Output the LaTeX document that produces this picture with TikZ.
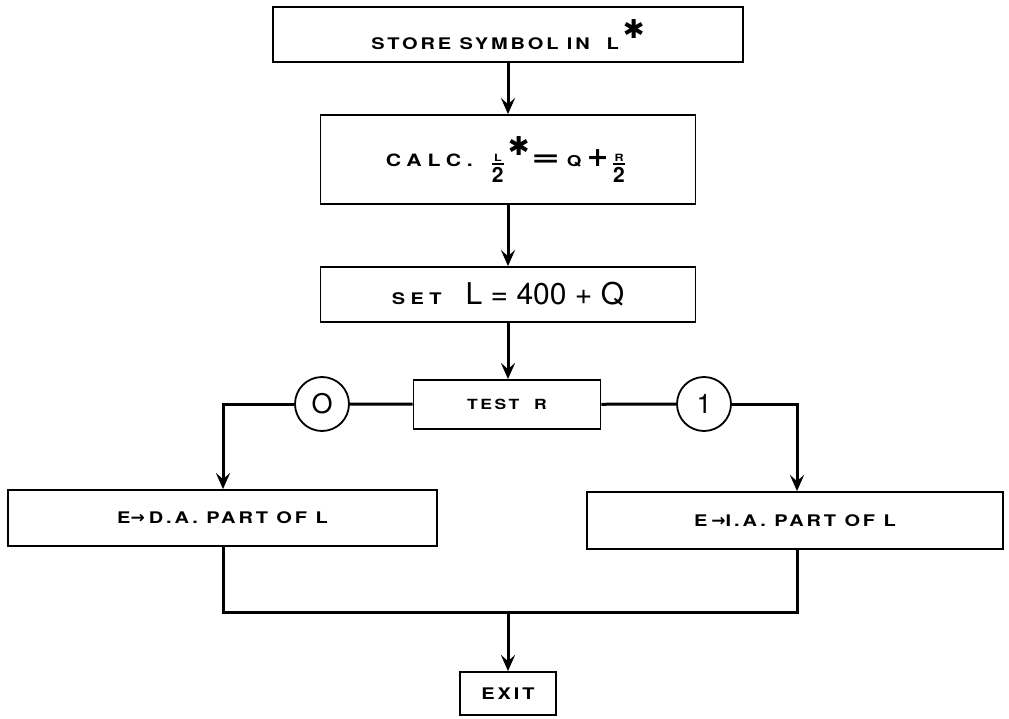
\documentclass[tikz,border=0pt]{standalone}
\usepackage{fontspec}
\usepackage{graphicx}
\setmainfont{TeX Gyre Heros}
\newfontfamily\lab[LetterSpace=18,FakeStretch=1.25]{TeX Gyre Heros}
\newfontfamily\labw[LetterSpace=34,FakeStretch=1.25]{TeX Gyre Heros}
\newfontfamily\sym{DejaVu Sans}
\usetikzlibrary{arrows.meta}
\newcommand{\lbl}[2]{{\lab\bfseries\fontsize{#1}{#1}\selectfont #2}}
\newcommand{\lblw}[2]{{\labw\bfseries\fontsize{#1}{#1}\selectfont #2}}
\newcommand{\astr}[1]{{\sym\bfseries\fontsize{#1}{#1}\selectfont ✱}}
\tikzset{
  box/.style={draw, line width=1.8pt, rectangle, inner sep=0pt, align=center},
  conn/.style={line width=3pt},
  arr/.style={conn, -{Stealth[length=16pt,width=14pt,inset=6pt]}},
  dot/.style={draw, circle, line width=1.8pt, minimum size=54pt, inner sep=0pt, font=\fontsize{27}{27}\selectfont},
}
\begin{document}
\begin{tikzpicture}[x=1pt,y=-1pt]
\useasboundingbox (0,0) rectangle (1009,719);
\node[box, minimum width=470pt, minimum height=55pt] (b1) at (508,34.5)
  {\lbl{16}{STORE SYMBOL IN\ \ L}\hspace{4pt}\raisebox{11pt}{\astr{26}}};
\node[box, minimum width=375pt, minimum height=89pt] (b2) at (508,159.5)
  {\lblw{17}{CALC.}\hspace{18pt}$\mbox{\lbl{10}{L}}\above 1.8pt\mbox{\fontsize{21}{21}\selectfont\bfseries 2}$\hspace{3pt}\raisebox{11pt}{\astr{26}}\hspace{1pt}\scalebox{1.5}[1]{\sym\bfseries\fontsize{24}{24}\selectfont =}\hspace{6pt}\lbl{15}{Q}\hspace{5pt}{\sym\bfseries\fontsize{27}{27}\selectfont +}\hspace{3pt}$\mbox{\lbl{10}{R}}\above 1.8pt\mbox{\fontsize{21}{21}\selectfont\bfseries 2}$\hspace{4pt}};
\node[box, minimum width=375pt, minimum height=55pt] (b3) at (508,294.5)
  {\lblw{16}{SET}\hspace{24pt}{\fontsize{30}{30}\selectfont L = 400 + Q}};
\node[box, minimum width=187pt, minimum height=49pt] (test) at (507,404.5)
  {\lbl{14}{TEST\ \ R}};
\node[dot] (c0) at (322,404) {O};
\node[dot] (c1) at (704,404) {1};
\node[box, minimum width=429pt, minimum height=56pt] (da) at (222.5,518)
  {\lbl{16}{E}{\sym\bfseries\fontsize{17}{17}\selectfont →}\hspace{4pt}\lbl{16}{D.A. PART OF L}};
\node[box, minimum width=416pt, minimum height=57pt] (ia) at (795,520.5)
  {\lbl{16}{E}\hspace{4pt}{\sym\bfseries\fontsize{17}{17}\selectfont →}\lbl{16}{I.A. PART OF L}};
\node[box, minimum width=96pt, minimum height=43pt] (exit) at (508,693.5)
  {\lbl{16}{EXIT}};
\coordinate (lt) at (223,404);
\coordinate (rt) at (797,404);
\coordinate (lb) at (223,612);
\coordinate (rb) at (797,612);
\coordinate (mb) at (508,612);
\draw[arr] (b1) -- (b2);
\draw[arr] (b2) -- (b3);
\draw[arr] (b3) -- (test.north -| b3.south);
\draw[conn] (test) -- (c0);
\draw[arr] (c0) -- (lt) -- (lt |- da.north);
\draw[conn] (test) -- (c1);
\draw[arr] (c1) -- (rt) -- (rt |- ia.north);
\draw[conn] (lt |- da.south) -- (lb) -- (rb) -- (rt |- ia.south);
\draw[arr] (mb) -- (exit);
\end{tikzpicture}
\end{document}
